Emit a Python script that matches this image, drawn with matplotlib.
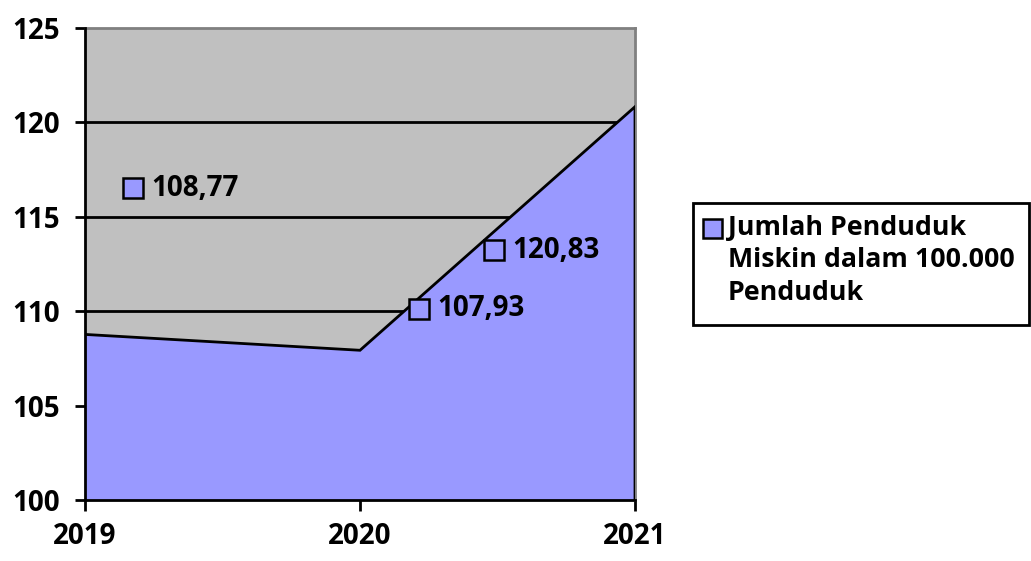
import matplotlib.pyplot as plt
from matplotlib.patches import Rectangle

plt.rcParams['font.family'] = ['Open Sans', 'DejaVu Sans']
plt.rcParams['font.weight'] = 'bold'

# data
years = [2019, 2020, 2021]
values = [108.77, 107.93, 120.83]
value_labels = ["108,77", "107,93", "120,83"]
series_name = "Jumlah Penduduk\nMiskin dalam 100.000\nPenduduk"
y_ticks = [100, 105, 110, 115, 120, 125]

fill_color = "#9999FF"
bg_color = "#C0C0C0"
fs = 20

fig = plt.figure(figsize=(10.31, 5.61), dpi=100)
ax = fig.add_axes([85 / 1031, 61 / 561, 550 / 1031, 472 / 561])
ax.set_facecolor(bg_color)

# grid behind the area
for t in y_ticks[1:-1]:
    ax.axhline(t, color="black", lw=2, zorder=1)

ax.fill_between(years, values, 100, color=fill_color, zorder=2)
ax.plot(years + [years[-1]], values + [100], color="black", lw=2, zorder=3,
        solid_joinstyle="miter")

ax.set_xlim(years[0], years[-1])
ax.set_ylim(100, 125)
ax.set_xticks(years)
ax.set_yticks(y_ticks)
ax.tick_params(axis="x", direction="out", length=8, width=2, pad=8, labelsize=fs)
ax.tick_params(axis="y", direction="out", length=7, width=2, pad=11, labelsize=fs)
for lab in ax.get_xticklabels() + ax.get_yticklabels():
    lab.set_fontweight("bold")

for s in ["left", "bottom"]:
    ax.spines[s].set_linewidth(2)
    ax.spines[s].set_color("black")
for s in ["top", "right"]:
    ax.spines[s].set_linewidth(2)
    ax.spines[s].set_color("#808080")
ax.spines["left"].set_zorder(4)
ax.spines["bottom"].set_zorder(4)

# data labels, placed where the original chart put them
label_pos = [(2019.176, 116.50), (2020.215, 110.14), (2020.489, 113.24)]
for (lx, ly), txt in zip(label_pos, value_labels):
    ax.plot([lx], [ly], marker="s", ms=14, mfc=fill_color, mec="black",
            mew=1.8, zorder=5, clip_on=False)
    ax.annotate(txt, (lx, ly), xytext=(13, 0), textcoords="offset points",
                va="center", ha="left", fontsize=fs, fontweight="bold", zorder=6)

# legend box drawn by hand so the key sits on the first line
fig.patches.append(Rectangle((693 / 1031, (561 - 325) / 561), 336 / 1031, 122 / 561,
                             transform=fig.transFigure, fill=False, ec="black", lw=2))
fig.patches.append(Rectangle((703 / 1031, (561 - 238) / 561), 19 / 1031, 19 / 561,
                             transform=fig.transFigure, fc=fill_color, ec="black", lw=1.8))
fig.text(728 / 1031, (561 - 215) / 561, series_name, va="top", ha="left",
         fontsize=19.3, fontweight="bold", linespacing=1.32)

fig.savefig("out.png", dpi=100)
